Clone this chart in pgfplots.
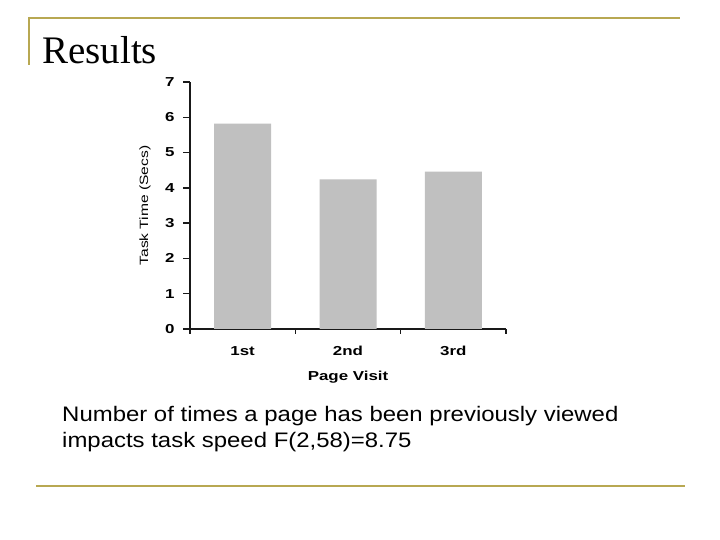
\documentclass[border=0pt]{standalone}
\usepackage{fontspec}
\setmainfont{Liberation Sans}
\newfontfamily\titlefont{Liberation Serif}
\newfontfamily\chartfont[FakeStretch=1.3]{Liberation Sans}
\usepackage{pgfplots}
\pgfplotsset{compat=1.18}

\definecolor{slidegold}{RGB}{184,168,82}
\definecolor{bargray}{RGB}{192,192,192}
\definecolor{axisdark}{RGB}{25,25,25}

\begin{document}
\begin{tikzpicture}
% slide area, 720 x 540
\fill[white] (0pt,0pt) rectangle (720pt,540pt);
% slide frame
\draw[slidegold,line width=2.2pt] (29pt,522pt) -- (680pt,522pt);
\draw[slidegold,line width=2.2pt] (29pt,523pt) -- (29pt,475pt);
\draw[slidegold,line width=2.2pt] (36pt,54pt) -- (685pt,54pt);
\node[anchor=base west,inner sep=0pt,font=\titlefont\fontsize{39}{42}\selectfont]
  at (42pt,476pt) {Results};
\node[anchor=base west,inner sep=0pt,xscale=1.14,align=left,
      font=\fontsize{21}{26}\selectfont] at (62pt,92pt)
  {Number of times a page has been previously viewed\\impacts task speed F(2,58)=8.75};

\begin{axis}[
   at={(190pt,211pt)}, anchor=south west,
   scale only axis, width=316pt, height=247pt,
   axis lines*=left,
   axis line style={axisdark,line width=1.5pt},
   xmin=0.5, xmax=3.5, ymin=0, ymax=7,
   xtick={1,2,3}, xticklabels={1st,2nd,3rd},
   every major x tick/.append style={draw=none},
   minor xtick={0.5,1.5,2.5,3.5},
   ytick={0,1,2,3,4,5,6,7},
   tick align=outside,
   major tick length=7pt, minor tick length=5pt,
   every tick/.style={axisdark,line width=1.3pt},
   tick label style={font=\chartfont\bfseries\fontsize{13}{15}\selectfont},
   /pgf/number format/assume math mode=true,
   xticklabel style={yshift=-7pt},
   yticklabel style={xshift=-5pt},
   ylabel={Task Time (Secs)},
   ylabel style={font=\chartfont\fontsize{12}{14}\selectfont,
     at={(axis description cs:-0.142,0.5)}, anchor=center},
   xlabel={Page Visit},
   xlabel style={font=\chartfont\bfseries\fontsize{13}{15}\selectfont,
     at={(axis description cs:0.5,-0.194)}, anchor=center},
   ]
\addplot[ybar, bar width=57pt, fill=bargray, draw=none]
  coordinates {(1,5.82) (2,4.24) (3,4.46)};
\end{axis}
\end{tikzpicture}
\end{document}
